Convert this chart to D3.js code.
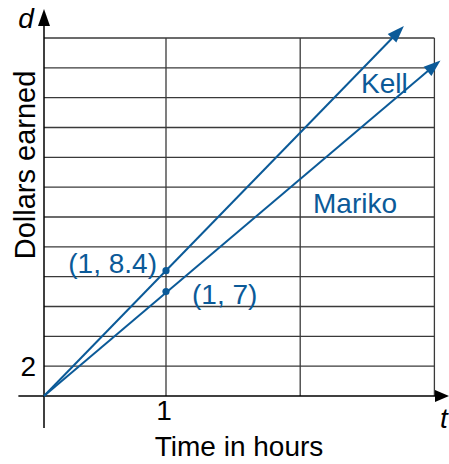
<!DOCTYPE html>
<html>
<head>
<meta charset="utf-8">
<script src="https://cdn.jsdelivr.net/npm/d3@7"></script>
<style>
  html, body { margin: 0; padding: 0; background: #fff; }
  svg { display: block; font-family: "Liberation Sans", Arial, Helvetica, sans-serif; }
</style>
</head>
<body>
<svg id="chart" width="449" height="464"></svg>
<script>
// ---- data ----
const xGrid = [1, 2.1, 3.2];                 // vertical grid lines (hours)
const yGrid = [2, 4, 6, 8, 10, 12, 14, 16, 18, 20, 22, 24]; // horizontal grid lines (dollars)
const xTickLabels = [1];
const yTickLabels = [2];
const seriesNames = ["Kell", "Mariko"];
const seriesStart = [[0, 0], [0, 0]];
const seriesEnd = [[2.95, 24.8], [3.25, 22.5]];
const pointT = [1, 1];
const pointD = [8.4, 7];
const pointLabels = ["(1, 8.4)", "(1, 7)"];

const blue = "#0b5a98";
const gridColor = "#3a3a3a";

const svg = d3.select("#chart");
const x = d3.scaleLinear().domain([0, 3.2]).range([44, 434.4]);
const y = d3.scaleLinear().domain([0, 24]).range([396, 38]);

// grid
svg.append("g").selectAll("line").data(yGrid).join("line")
  .attr("x1", x(0)).attr("x2", x(3.2))
  .attr("y1", d => y(d)).attr("y2", d => y(d))
  .attr("stroke", gridColor).attr("stroke-width", 1.3);
svg.append("g").selectAll("line").data(xGrid).join("line")
  .attr("x1", d => x(d)).attr("x2", d => x(d))
  .attr("y1", y(0)).attr("y2", y(24))
  .attr("stroke", gridColor).attr("stroke-width", 1.3);

// axes
const ax = svg.append("g").attr("stroke", "#000").attr("stroke-width", 1.5);
ax.append("line").attr("x1", x(-0.21)).attr("x2", x(3.3)).attr("y1", y(0)).attr("y2", y(0));
ax.append("line").attr("x1", x(0)).attr("x2", x(0)).attr("y1", y(-2.15)).attr("y2", y(25.2));
// arrowheads
function arrowHead(g, tipX, tipY, angle, len, half, color) {
  const bx = tipX - len * Math.cos(angle), by = tipY - len * Math.sin(angle);
  const px = -Math.sin(angle) * half, py = Math.cos(angle) * half;
  g.append("path")
    .attr("d", `M${tipX},${tipY}L${bx + px},${by + py}L${bx - px},${by - py}Z`)
    .attr("fill", color).attr("stroke", "none");
}
arrowHead(svg, x(0), y(25.95), -Math.PI / 2, 17, 6, "#000");
arrowHead(svg, 449, y(0), 0, 14, 6, "#000");

// axis labels
svg.append("text").attr("x", 26).attr("y", 28).attr("text-anchor", "middle")
  .attr("font-size", 28).attr("font-style", "italic").text("d");
svg.append("text").attr("x", 444).attr("y", 428).attr("text-anchor", "middle")
  .attr("font-size", 28).attr("font-style", "italic").text("t");
svg.selectAll(".xt").data(xTickLabels).join("text").attr("class", "xt")
  .attr("x", d => x(d) - 2).attr("y", 420).attr("text-anchor", "middle")
  .attr("font-size", 28).text(d => d);
svg.selectAll(".yt").data(yTickLabels).join("text").attr("class", "yt")
  .attr("x", 36).attr("y", d => y(d) + 10).attr("text-anchor", "end")
  .attr("font-size", 28).text(d => d);
svg.append("text").attr("x", 239).attr("y", 456).attr("text-anchor", "middle")
  .attr("font-size", 28).text("Time in hours");
svg.append("text").attr("transform", "translate(35,165) rotate(-90)")
  .attr("text-anchor", "middle").attr("font-size", 29).text("Dollars earned");

// series lines
seriesNames.forEach((name, i) => {
  const x0 = x(seriesStart[i][0]), y0 = y(seriesStart[i][1]);
  const x1 = x(seriesEnd[i][0]), y1 = y(seriesEnd[i][1]);
  const ang = Math.atan2(y1 - y0, x1 - x0);
  svg.append("line").attr("x1", x0).attr("y1", y0)
    .attr("x2", x1 - 10 * Math.cos(ang)).attr("y2", y1 - 10 * Math.sin(ang))
    .attr("stroke", blue).attr("stroke-width", 2);
  arrowHead(svg, x1, y1, ang, 17, 6, blue);
});

// points
svg.selectAll(".pt").data(pointT).join("circle").attr("class", "pt")
  .attr("cx", d => x(d)).attr("cy", (d, i) => y(pointD[i])).attr("r", 3.6).attr("fill", blue);

// labels
const lab = svg.append("g").attr("fill", blue).attr("font-size", 28);
lab.append("text").attr("x", 157).attr("y", 273).attr("text-anchor", "end").text(pointLabels[0]);
lab.append("text").attr("x", 192).attr("y", 304).text(pointLabels[1]);
lab.append("text").attr("x", 361).attr("y", 93).text(seriesNames[0]);
lab.append("text").attr("x", 313).attr("y", 213).text(seriesNames[1]);
</script>
</body>
</html>
